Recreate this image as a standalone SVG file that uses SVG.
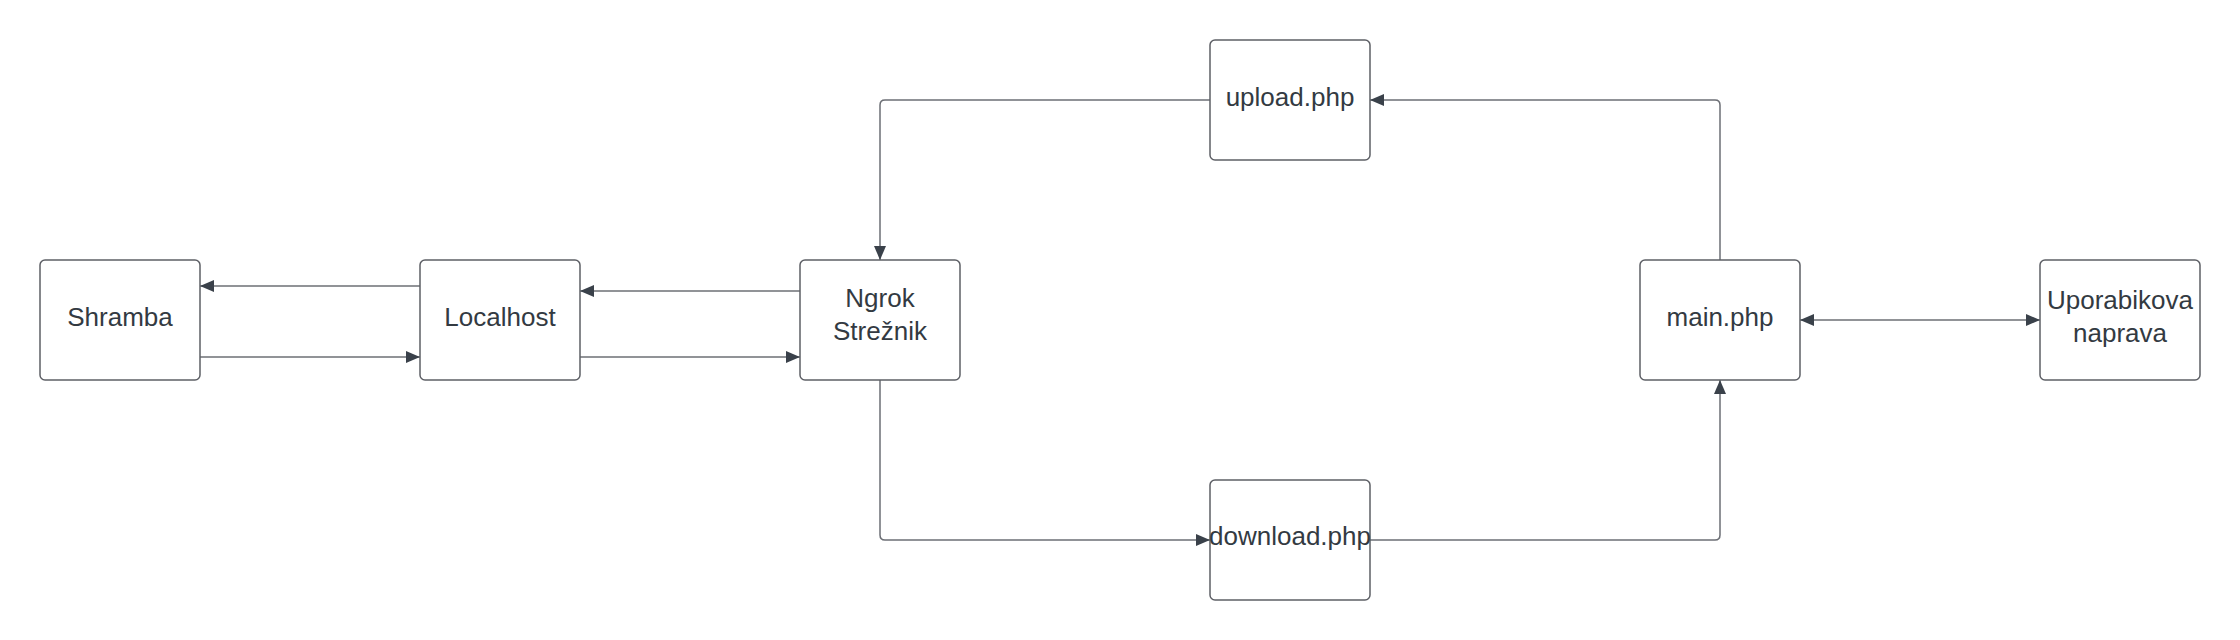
<svg xmlns="http://www.w3.org/2000/svg" width="2240" height="640" viewBox="0 0 2240 640">
<style>
.node rect{fill:#ffffff;stroke:#5e6066;stroke-width:1.5}
.node text{font-family:"Liberation Sans",Arial,sans-serif;font-size:26px;fill:#333a42;text-anchor:middle}
.conn path{fill:none;stroke:#6c6f75;stroke-width:1.5}
</style>
<defs>
<marker id="arr" viewBox="0 0 14 12" refX="14" refY="6" markerWidth="14" markerHeight="12" markerUnits="userSpaceOnUse" orient="auto-start-reverse">
<path d="M0,0 L14,6 L0,12 Z" fill="#3a414a"/>
</marker>
</defs>
<rect width="2240" height="640" fill="#ffffff"/>
<g id="connectors" class="conn">
<path d="M420,286 H200" marker-end="url(#arr)"/>
<path d="M200,357 H420" marker-end="url(#arr)"/>
<path d="M800,291 H580" marker-end="url(#arr)"/>
<path d="M580,357 H800" marker-end="url(#arr)"/>
<path d="M1210,100 H885 Q880,100 880,105 V260" marker-end="url(#arr)"/>
<path d="M880,380 V535 Q880,540 885,540 H1210" marker-end="url(#arr)"/>
<path d="M1370,540 H1715 Q1720,540 1720,535 V380" marker-end="url(#arr)"/>
<path d="M1720,260 V105 Q1720,100 1715,100 H1370" marker-end="url(#arr)"/>
<path d="M1800,320 H2040" marker-start="url(#arr)" marker-end="url(#arr)"/>
</g>
<g id="shramba" class="node"><rect x="40" y="260" width="160" height="120" rx="5"/><text x="120" y="326">Shramba</text></g>
<g id="localhost" class="node"><rect x="420" y="260" width="160" height="120" rx="5"/><text x="500" y="326">Localhost</text></g>
<g id="ngrok" class="node"><rect x="800" y="260" width="160" height="120" rx="5"/><text x="880" y="307">Ngrok</text><text x="880" y="340">Strežnik</text></g>
<g id="upload" class="node"><rect x="1210" y="40" width="160" height="120" rx="5"/><text x="1290" y="106">upload.php</text></g>
<g id="download" class="node"><rect x="1210" y="480" width="160" height="120" rx="5"/><text x="1290" y="545">download.php</text></g>
<g id="main" class="node"><rect x="1640" y="260" width="160" height="120" rx="5"/><text x="1720" y="326">main.php</text></g>
<g id="uporabnik" class="node"><rect x="2040" y="260" width="160" height="120" rx="5"/><text x="2120" y="309">Uporabikova</text><text x="2120" y="342">naprava</text></g>
</svg>
